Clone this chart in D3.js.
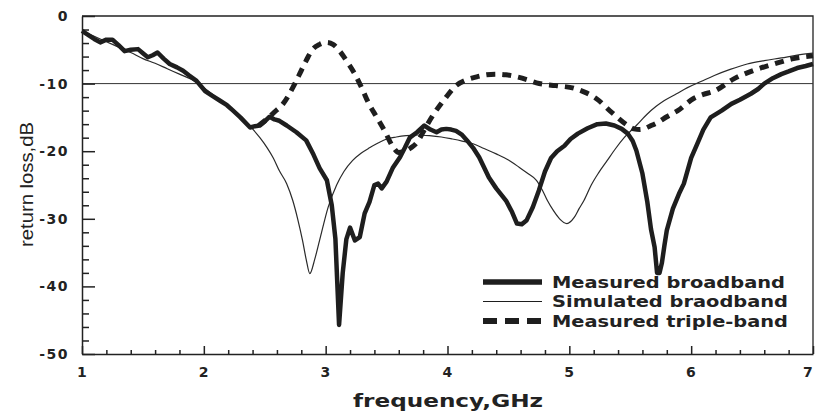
<!DOCTYPE html>
<meta charset="utf-8">
<style>
body { margin: 0; background: #fff; }
.tick text { font: bold 14px "DejaVu Sans"; letter-spacing: 1.5px; fill: #222; }
.axis path, .axis line { stroke: #222; stroke-width: 1.5px; }
.legendLabel { font: bold 15px "DejaVu Sans"; fill: #222; }
.axisLabel { font: bold 17px "DejaVu Sans"; fill: #222; }
.yLabel { font: 18px "Liberation Sans Narrow", "Liberation Sans"; fill: #222; }
</style>
<body>
<script src="https://d3js.org/d3.v7.min.js"></script>
<script>

// measured broadband (thick solid)
const measuredFreq = [1.00,1.05,1.10,1.15,1.20,1.25,1.30,1.35,1.40,1.46,1.50,1.54,1.58,1.62,1.67,1.72,1.78,1.83,1.88,1.94,
  2.01,2.07,2.13,2.19,2.24,2.30,2.38,2.42,2.46,2.50,2.54,2.58,2.62,2.68,2.76,2.84,2.90,2.95,3.01,3.05,3.08,3.11,3.14,3.17,
  3.20,3.24,3.28,3.32,3.36,3.40,3.43,3.46,3.50,3.55,3.61,3.65,3.69,3.75,3.81,3.86,3.91,3.95,3.99,4.03,4.07,4.12,4.16,4.21,
  4.26,4.34,4.40,4.48,4.53,4.57,4.61,4.65,4.70,4.75,4.80,4.85,4.90,4.96,5.01,5.07,5.15,5.23,5.30,5.37,5.43,5.48,5.52,5.55,
  5.60,5.64,5.67,5.70,5.72,5.74,5.76,5.78,5.80,5.85,5.90,5.94,6.00,6.05,6.10,6.16,6.25,6.33,6.40,6.49,6.55,6.60,6.67,6.74,
  6.80,6.87,6.94,7.00];
const measuredLoss = [-2.2,-2.8,-3.4,-3.9,-3.5,-3.5,-4.3,-5.2,-5.0,-4.9,-5.5,-6.1,-5.8,-5.4,-6.3,-7.1,-7.6,-8.1,-8.8,-9.6,
  -11.1,-11.8,-12.5,-13.2,-14.0,-15.0,-16.5,-16.3,-16.2,-15.6,-14.9,-15.3,-15.5,-16.2,-17.2,-18.4,-20.5,-22.5,-24.3,-28.0,-33.0,-45.7,-38.0,-33.0,
  -31.3,-33.2,-32.7,-29.2,-27.5,-25.0,-24.8,-25.5,-24.5,-22.5,-20.9,-19.5,-18.0,-17.2,-16.2,-16.8,-17.2,-16.8,-16.7,-16.8,-17.0,-17.6,-18.4,-19.5,
  -20.9,-23.9,-25.5,-27.3,-29.0,-30.7,-30.8,-30.2,-28.3,-25.8,-23.0,-21.0,-20.0,-19.2,-18.2,-17.4,-16.6,-16.0,-15.9,-16.2,-16.7,-17.4,-18.5,-19.9,
  -23.3,-27.5,-31.5,-34.2,-38.0,-38.0,-36.5,-34.0,-31.7,-28.5,-26.3,-24.8,-21.0,-18.9,-16.8,-15.0,-14.0,-13.0,-12.4,-11.5,-10.8,-10.0,-9.2,-8.6,
  -8.2,-7.7,-7.4,-7.1];

// simulated broadband (thin solid)
const simulatedFreq = [1.00,1.10,1.20,1.30,1.40,1.50,1.60,1.70,1.80,1.90,2.00,2.10,2.20,2.30,2.40,2.46,2.52,2.57,2.62,2.68,
  2.73,2.77,2.81,2.84,2.87,2.91,2.95,3.02,3.09,3.15,3.22,3.29,3.36,3.43,3.50,3.58,3.66,3.75,3.85,3.95,4.04,4.12,4.21,4.30,
  4.40,4.50,4.59,4.66,4.73,4.78,4.82,4.87,4.92,4.98,5.04,5.08,5.12,5.18,5.24,5.31,5.38,5.45,5.55,5.64,5.71,5.78,5.88,5.97,
  6.08,6.19,6.32,6.46,6.60,6.74,6.87,7.00];
const simulatedLoss = [-2.2,-3.0,-3.8,-4.6,-5.4,-6.3,-7.0,-7.8,-8.6,-9.4,-10.6,-12.0,-13.4,-14.8,-16.7,-18.0,-19.5,-21.0,-22.9,-24.8,
  -27.3,-30.0,-33.2,-36.0,-38.1,-36.0,-33.2,-28.3,-25.0,-23.0,-21.4,-20.3,-19.5,-18.8,-18.2,-17.9,-17.7,-17.6,-17.7,-17.9,-18.2,-18.5,-18.9,-19.6,
  -20.4,-21.3,-22.4,-23.3,-24.3,-25.8,-27.3,-28.8,-30.0,-30.7,-29.8,-28.5,-27.3,-25.0,-23.2,-21.4,-19.6,-18.0,-16.2,-14.5,-13.4,-12.5,-11.5,-10.6,
  -9.7,-8.8,-7.9,-7.1,-6.6,-6.2,-5.8,-5.5];

// measured triple-band (dashed)
const tripleFreq = [2.45,2.52,2.58,2.65,2.73,2.78,2.84,2.89,2.95,3.01,3.06,3.12,3.17,3.24,3.30,3.35,3.42,3.49,3.55,3.60,
  3.65,3.70,3.75,3.82,3.88,3.98,4.07,4.15,4.24,4.32,4.40,4.48,4.57,4.65,4.73,4.89,5.04,5.13,5.22,5.35,5.48,5.53,5.58,5.61,
  5.66,5.72,5.80,5.89,6.02,6.10,6.19,6.35,6.52,6.68,6.84,7.00];
const tripleLoss = [-16.2,-15.2,-14.2,-13.0,-10.6,-8.8,-6.6,-5.0,-4.2,-3.9,-4.2,-5.3,-6.6,-8.6,-10.8,-12.8,-15.0,-17.2,-19.3,-20.2,
  -20.0,-19.5,-18.7,-16.5,-14.7,-12.2,-10.3,-9.5,-9.0,-8.7,-8.6,-8.7,-9.0,-9.4,-9.9,-10.3,-10.7,-11.3,-12.2,-14.3,-16.2,-16.7,-16.8,-16.7,
  -16.3,-15.8,-14.9,-14.0,-12.2,-11.6,-11.1,-9.3,-8.0,-7.1,-6.3,-5.9];

const freqTicks = [1, 2, 3, 4, 5, 6, 7],
      lossTicks = [0, -10, -20, -30, -40, -50],
      refLevel = -10,
      legendNames = ["Measured broadband", "Simulated braodband", "Measured triple-band"];

let width = 815,
    height = 414,
    margin = {top: 16, right: 2, bottom: 60, left: 82};

let svg = d3.select("body").append("svg")
            .attr("width", width)
            .attr("height", height);

let x = d3.scaleLinear().domain([1, 7]).range([margin.left, width - margin.right]),
    y = d3.scaleLinear().domain([-50, 0]).range([height - margin.bottom, margin.top]);

// frame: top and right
svg.append("path")
    .attr("d", `M${x(1)},${y(0)}H${x(7)}V${y(-50)}`)
    .attr("fill", "none")
    .attr("stroke", "#222")
    .attr("stroke-width", 1.3);

// -10 dB reference line
svg.append("line")
    .attr("x1", x(1)).attr("x2", x(7))
    .attr("y1", y(refLevel)).attr("y2", y(refLevel))
    .attr("stroke", "#333")
    .attr("stroke-width", 1);

// minor ticks
svg.append("g")
    .attr("class", "axis")
    .attr("transform", `translate(0,${y(-50)})`)
    .call(d3.axisBottom(x).tickValues(d3.range(10, 71, 2).filter(d => d % 10).map(d => d / 10)).tickSize(-4).tickFormat(""))
    .call(g => g.select(".domain").remove());
svg.append("g")
    .attr("class", "axis")
    .attr("transform", `translate(${x(1)},0)`)
    .call(d3.axisLeft(y).tickValues(d3.range(-50, 1, 2).filter(d => d % 10)).tickSize(-7).tickFormat(""))
    .call(g => g.select(".domain").remove());

// major axes
svg.append("g")
    .attr("class", "axis")
    .attr("transform", `translate(0,${y(-50)})`)
    .call(d3.axisBottom(x).tickValues(freqTicks).tickSize(-8).tickPadding(13).tickSizeOuter(0).tickFormat(d => String(d)))
    .call(g => g.selectAll(".tick text").filter(d => d === 7).attr("dx", -5));
svg.append("g")
    .attr("class", "axis")
    .attr("transform", `translate(${x(1)},0)`)
    .call(d3.axisLeft(y).tickValues(lossTicks).tickSize(-13).tickPadding(13).tickSizeOuter(0).tickFormat(d => String(d)));

// curves
const line = (xs, ys, curve) => d3.line()
    .x((d, i) => x(xs[i]))
    .y((d, i) => y(ys[i]))
    .curve(curve)(xs);

svg.append("path")
    .attr("d", line(simulatedFreq, simulatedLoss, d3.curveMonotoneX))
    .attr("fill", "none")
    .attr("stroke", "#2a2a2a")
    .attr("stroke-width", 1.2);

svg.append("path")
    .attr("d", line(tripleFreq, tripleLoss, d3.curveMonotoneX))
    .attr("fill", "none")
    .attr("stroke", "#1e1e1e")
    .attr("stroke-width", 5)
    .attr("stroke-dasharray", "9,7");

svg.append("path")
    .attr("d", line(measuredFreq, measuredLoss, d3.curveLinear))
    .attr("fill", "none")
    .attr("stroke", "#1e1e1e")
    .attr("stroke-width", 4.5)
    .attr("stroke-linejoin", "round");

// axis labels
svg.append("text")
    .attr("class", "axisLabel")
    .attr("x", 353)
    .attr("y", 407)
    .attr("textLength", 190)
    .attr("lengthAdjust", "spacingAndGlyphs")
    .text("frequency,GHz");

svg.append("text")
    .attr("class", "yLabel")
    .attr("transform", "translate(33,247) rotate(-90)")
    .attr("textLength", 125)
    .attr("lengthAdjust", "spacingAndGlyphs")
    .text("return loss,dB");

// legend
const legend_g = svg.append("g")
    .attr("transform", "translate(483,282)");
const legendStyles = [
    {w: 5.5, dash: null},
    {w: 1.2, dash: null},
    {w: 6, dash: "14,8"}
];
const lg = legend_g.selectAll("g")
    .data(legendNames)
    .join("g")
        .attr("transform", (d, i) => `translate(0,${i * 19.5})`);
lg.append("line")
    .attr("x1", 0).attr("x2", 59)
    .attr("stroke", "#1e1e1e")
    .attr("stroke-width", (d, i) => legendStyles[i].w)
    .attr("stroke-dasharray", (d, i) => legendStyles[i].dash);
lg.append("text")
    .attr("class", "legendLabel")
    .attr("x", 69)
    .attr("y", 5.5)
    .attr("textLength", (d, i) => i ? 236 : 233)
    .attr("lengthAdjust", "spacingAndGlyphs")
    .text(d => d);

</script>
